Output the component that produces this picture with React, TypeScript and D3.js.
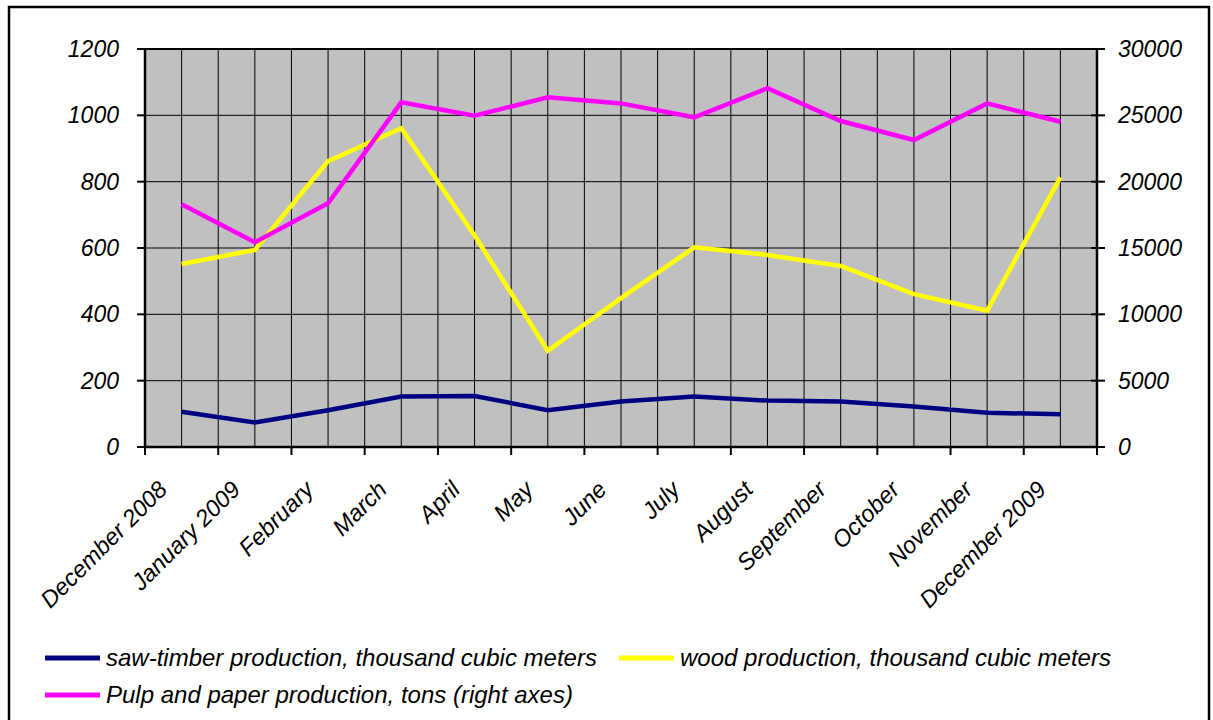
import * as d3 from 'd3';
import React from 'react';

// months on the category axis
const months = [
  'December 2008', 'January 2009', 'February', 'March', 'April', 'May', 'June',
  'July', 'August', 'September', 'October', 'November', 'December 2009',
];

// left axis series (thousand cubic meters)
const sawTimber = [106, 74, 111, 152, 154, 111, 137, 152, 140, 137, 122, 103, 99];
const wood = [552, 594, 862, 961, 638, 290, 449, 602, 579, 546, 461, 411, 813];
// right axis series (tons)
const pulpPaper = [18300, 15430, 18370, 25980, 24970, 26360, 25900, 24850, 27040, 24570, 23140, 25900, 24520];

const leftTicks = [0, 200, 400, 600, 800, 1000, 1200];
const rightTicks = [0, 5000, 10000, 15000, 20000, 25000, 30000];

const FONT = '"Liberation Sans", Arial, sans-serif';

export default function App() {
  const plot = { left: 145, right: 1097, top: 49, bottom: 447 };

  const x = d3.scaleLinear().domain([0, months.length]).range([plot.left, plot.right]);
  const yL = d3.scaleLinear().domain([0, 1200]).range([plot.bottom, plot.top]);
  const yR = d3.scaleLinear().domain([0, 30000]).range([plot.bottom, plot.top]);

  const lineL = d3.line<number>().x((_, i) => x(i + 0.5)).y(d => yL(d));
  const lineR = d3.line<number>().x((_, i) => x(i + 0.5)).y(d => yR(d));

  // vertical grid at category borders and centres
  const vGrid = d3.range(1, months.length * 2).map(k => x(k / 2));
  const catTicks = d3.range(0, months.length + 1).map(k => x(k));

  const legend = [
    { label: 'saw-timber production, thousand cubic meters', color: '#000080', x: 45, y: 658 },
    { label: 'wood production, thousand cubic meters', color: '#FFFF00', x: 619, y: 658 },
    { label: 'Pulp and paper production, tons (right axes)', color: '#FF00FF', x: 45, y: 695 },
  ];

  return (
    <svg width={1213} height={720} style={{ position: 'absolute', left: 0, top: 0 }}
      fontFamily={FONT} fontStyle="italic">
      <rect x={0} y={0} width={1213} height={720} fill="#fff" />
      <rect x={9} y={7} width={1200} height={730} fill="none" stroke="#000" strokeWidth={2.5} />

      {/* plot area */}
      <rect x={plot.left} y={plot.top} width={plot.right - plot.left} height={plot.bottom - plot.top} fill="#C0C0C0" />
      {leftTicks.slice(1).map(t => (
        <line key={'h' + t} x1={plot.left} x2={plot.right} y1={yL(t)} y2={yL(t)} stroke="#000" strokeWidth={1} />
      ))}
      {vGrid.map((gx, i) => (
        <line key={'v' + i} x1={gx} x2={gx} y1={plot.top} y2={plot.bottom} stroke="#000" strokeWidth={1} />
      ))}
      <line x1={plot.left} x2={plot.right} y1={plot.top} y2={plot.top} stroke="#000" strokeWidth={2} />

      {/* series */}
      <path d={lineL(sawTimber) || ''} fill="none" stroke="#000080" strokeWidth={4.5} />
      <path d={lineL(wood) || ''} fill="none" stroke="#FFFF00" strokeWidth={4.5} />
      <path d={lineR(pulpPaper) || ''} fill="none" stroke="#FF00FF" strokeWidth={4.5} />

      {/* axes */}
      <line x1={plot.left} x2={plot.left} y1={plot.top - 1} y2={plot.bottom + 1} stroke="#000" strokeWidth={2.5} />
      <line x1={plot.right} x2={plot.right} y1={plot.top - 1} y2={plot.bottom + 1} stroke="#000" strokeWidth={2.5} />
      <line x1={plot.left} x2={plot.right} y1={plot.bottom} y2={plot.bottom} stroke="#000" strokeWidth={2.5} />

      {leftTicks.map(t => (
        <g key={'lt' + t}>
          <line x1={plot.left - 8} x2={plot.left} y1={yL(t)} y2={yL(t)} stroke="#000" strokeWidth={2} />
          <text x={119} y={yL(t) + 8} textAnchor="end" fontSize={23}>{t}</text>
        </g>
      ))}
      {rightTicks.map(t => (
        <g key={'rt' + t}>
          <line x1={plot.right - 6} x2={plot.right + 8} y1={yR(t)} y2={yR(t)} stroke="#000" strokeWidth={2} />
          <text x={1118} y={yR(t) + 8} textAnchor="start" fontSize={23}>{t}</text>
        </g>
      ))}
      {catTicks.map((cx, i) => (
        <line key={'ct' + i} x1={cx} x2={cx} y1={plot.bottom} y2={plot.bottom + 8} stroke="#000" strokeWidth={2} />
      ))}
      {months.map((m, i) => (
        <text key={m} transform={`translate(${x(i + 0.5) - 13},${491}) rotate(-45)`} textAnchor="end" fontSize={23.5}>{m}</text>
      ))}

      {/* legend */}
      {legend.map(l => (
        <g key={l.label}>
          <line x1={l.x} x2={l.x + 55} y1={l.y} y2={l.y} stroke={l.color} strokeWidth={5} />
          <text x={l.x + 61} y={l.y + 8} fontSize={24}>{l.label}</text>
        </g>
      ))}
    </svg>
  );
}
